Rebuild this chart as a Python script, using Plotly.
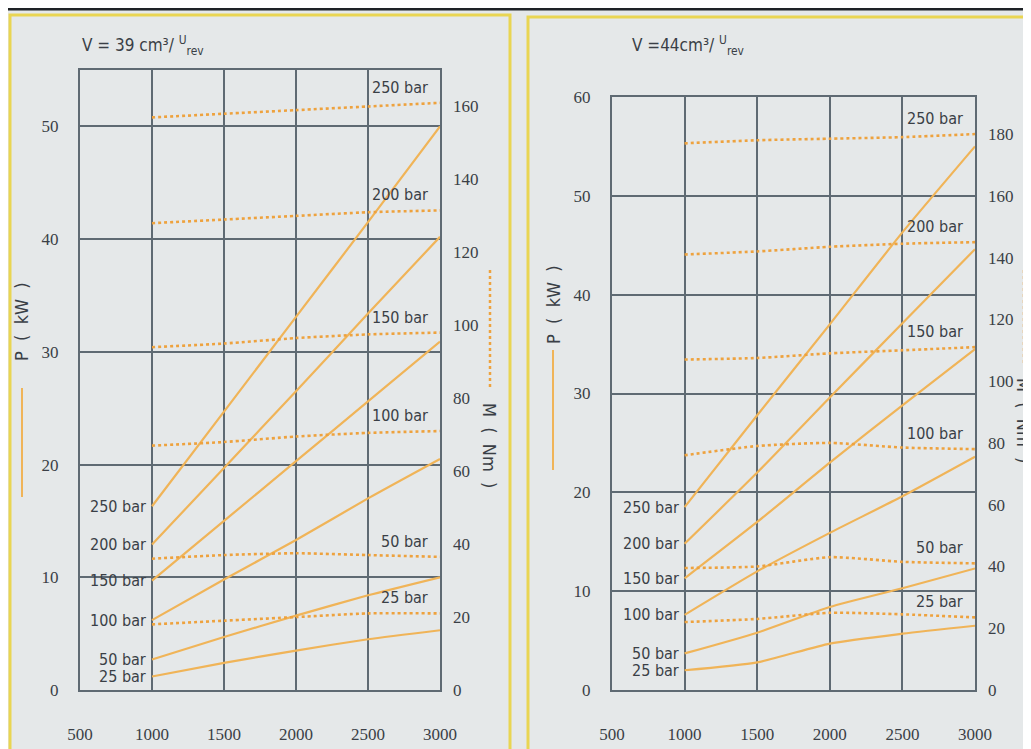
import plotly.graph_objects as go

# ---------------- data ----------------
rpm = [1000, 1500, 2000, 2500, 3000]
pressures = ["250 bar", "200 bar", "150 bar", "100 bar", "50 bar", "25 bar"]
x_ticks = [500, 1000, 1500, 2000, 2500, 3000]

# V = 39 cm3/rev : power P (kW)
p39_250 = [16.3, 24.7, 33.1, 41.5, 50.0]
p39_200 = [12.9, 19.7, 26.5, 33.4, 40.2]
p39_150 = [9.7, 15.0, 20.3, 25.6, 30.9]
p39_100 = [6.2, 9.8, 13.3, 17.0, 20.5]
p39_50 = [2.7, 4.7, 6.6, 8.4, 10.0]
p39_25 = [1.2, 2.4, 3.5, 4.5, 5.3]
# V = 39 cm3/rev : torque M (Nm)
m39_250 = [157, 158, 159, 160, 161]
m39_200 = [128, 129, 130, 131, 131.5]
m39_150 = [94, 95, 96.5, 97.5, 98]
m39_100 = [67, 68, 69.5, 70.5, 71]
m39_50 = [36, 37, 37.5, 37, 36.5]
m39_25 = [18, 19, 20, 21, 21]

# V = 44 cm3/rev : power P (kW)
p44_250 = [18.5, 27.8, 37.0, 46.3, 55.0]
p44_200 = [14.8, 22.0, 29.6, 37.1, 44.6]
p44_150 = [11.3, 17.0, 23.0, 28.8, 34.5]
p44_100 = [7.6, 12.0, 15.9, 19.6, 23.6]
p44_50 = [3.7, 5.8, 8.4, 10.3, 12.3]
p44_25 = [2.0, 2.8, 4.7, 5.7, 6.5]
# V = 44 cm3/rev : torque M (Nm)
m44_250 = [177, 178, 178.5, 179, 180]
m44_200 = [141, 142, 143.5, 144.5, 145]
m44_150 = [107, 107.5, 109, 110, 111]
m44_100 = [76, 79, 80, 78.5, 78]
m44_50 = [39.5, 40, 43, 41.5, 41]
m44_25 = [22, 23, 25, 24.5, 23.5]

p39 = [p39_250, p39_200, p39_150, p39_100, p39_50, p39_25]
m39 = [m39_250, m39_200, m39_150, m39_100, m39_50, m39_25]
p44 = [p44_250, p44_200, p44_150, p44_100, p44_50, p44_25]
m44 = [m44_250, m44_200, m44_150, m44_100, m44_50, m44_25]

# ---------------- styles ----------------
BG = "#e5e8e9"
GRID = "#5f6a73"
SOLID = "#f0b458"
DOTTED = "#eea23e"
FRAME = "#e9d552"
TXT = "#3a3f46"
NUM_FONT = "Liberation Serif"
LBL_FONT = "DejaVu Sans Condensed"

W, H = 1031, 749
OFF = 8  # page body margin offset

fig = go.Figure()

panels = [
    dict(p=p39, m=m39, xa="x", ya="y", ma="y2"),
    dict(p=p44, m=m44, xa="x2", ya="y3", ma="y4"),
]

for pan in panels:
    for name, pv, mv in zip(pressures, pan["p"], pan["m"]):
        fig.add_trace(go.Scatter(x=rpm, y=pv, mode="lines", name="P " + name,
                                 line=dict(color=SOLID, width=2.2, shape="spline", smoothing=0.6),
                                 xaxis=pan["xa"], yaxis=pan["ya"], showlegend=False,
                                 hoverinfo="skip"))
        fig.add_trace(go.Scatter(x=rpm, y=mv, mode="lines", name="M " + name,
                                 line=dict(color=DOTTED, width=2.6, dash="dot", shape="spline", smoothing=0.6),
                                 xaxis=pan["xa"], yaxis=pan["ma"], showlegend=False,
                                 hoverinfo="skip"))

annotations = []
label_font = dict(family=LBL_FONT, size=16, color=TXT)

for pan in panels:
    xref = pan["xa"]
    for name, pv, mv in zip(pressures, pan["p"], pan["m"]):
        annotations.append(dict(x=rpm[0], y=pv[0], xref=xref, yref=pan["ya"], text=name,
                                showarrow=False, xanchor="right", yanchor="middle", xshift=-4,
                                font=label_font))
        annotations.append(dict(x=rpm[-1], y=mv[-1], xref=xref, yref=pan["ma"], text=name,
                                showarrow=False, xanchor="right", yanchor="bottom", xshift=-10,
                                yshift=4, font=label_font))


def px(x):
    return (x - OFF) / W


def py(y):
    return 1 - (y - OFF) / H


paper_ann = [
    (80, 45, "V = 39 cm³/ <sup>U</sup><sub>rev</sub>", 0, "left", 17),
    (630, 45, "V =44cm³/ <sup>U</sup><sub>rev</sub>", 0, "left", 17),
    (22, 322, "P  (  kW  )", -90, "center", 18),
    (490, 445, "M  (  Nm  )", 90, "center", 18),
    (553, 305, "P  (  kW  )", -90, "center", 18),
    (1024, 420, "M  (  Nm  )", 90, "center", 18),
]
for (x, y, txt, ang, xa, fs) in paper_ann:
    annotations.append(dict(x=px(x), y=py(y), xref="paper", yref="paper", showarrow=False,
                            text=txt, textangle=ang, xanchor=xa, yanchor="middle",
                            font=dict(family=LBL_FONT, size=fs, color=TXT)))


def px_line(x0, y0, x1, y1, color, width, dash="solid"):
    return dict(type="line", xref="paper", yref="paper", x0=px(x0), x1=px(x1),
                y0=py(y0), y1=py(y1), line=dict(color=color, width=width, dash=dash))


shapes = [
    dict(type="rect", xref="paper", yref="paper", x0=px(10), x1=px(510), y0=-0.05, y1=py(15),
         line=dict(color=FRAME, width=3), layer="below"),
    dict(type="rect", xref="paper", yref="paper", x0=px(528), x1=1.05, y0=-0.05, y1=py(17),
         line=dict(color=FRAME, width=3), layer="below"),
    px_line(0, 9, 1040, 9, "#1e2226", 3),
    px_line(22, 388, 22, 497, SOLID, 2),
    px_line(490, 270, 490, 390, DOTTED, 2.5, "dot"),
    px_line(553, 350, 553, 470, SOLID, 2),
    px_line(1024, 270, 1024, 365, DOTTED, 2.5, "dot"),
]

tickfont = dict(family=NUM_FONT, size=17, color=TXT)


def xaxis(domain, anchor):
    return dict(domain=domain, anchor=anchor, range=[500, 3000], tickvals=x_ticks,
                showgrid=True, gridcolor=GRID, gridwidth=1.5, showline=True, linecolor=GRID,
                linewidth=2, mirror=True, ticks="", tickfont=tickfont, ticklabelstandoff=28,
                zeroline=False, automargin=False)


def pyaxis(domain, anchor, rng, dtick):
    return dict(domain=domain, anchor=anchor, range=rng, dtick=dtick, showgrid=True,
                gridcolor=GRID, gridwidth=1.5, showline=True, linecolor=GRID, linewidth=2,
                mirror=True, ticks="", tickfont=tickfont, ticklabelstandoff=16, zeroline=False,
                automargin=False)


def myaxis(overlay, anchor, rng):
    return dict(overlaying=overlay, anchor=anchor, side="right", range=rng, dtick=20,
                showgrid=False, showline=False, ticks="", tickfont=tickfont,
                ticklabelstandoff=12, zeroline=False, automargin=False)


fig.update_layout(
    width=W, height=H, margin=dict(l=0, r=0, t=0, b=0, pad=0, autoexpand=False),
    paper_bgcolor=BG, plot_bgcolor=BG, showlegend=False,
    xaxis=xaxis([px(80), px(440)], "y"),
    yaxis=pyaxis([py(690), py(70)], "x", [0, 55], 10),
    yaxis2=myaxis("y", "x", [0, 170]),
    xaxis2=xaxis([px(612), px(975)], "y3"),
    yaxis3=pyaxis([py(690), py(97)], "x2", [0, 60], 10),
    yaxis4=myaxis("y3", "x2", [0, 192]),
    annotations=annotations, shapes=shapes,
)

fig.write_html("out.html")
